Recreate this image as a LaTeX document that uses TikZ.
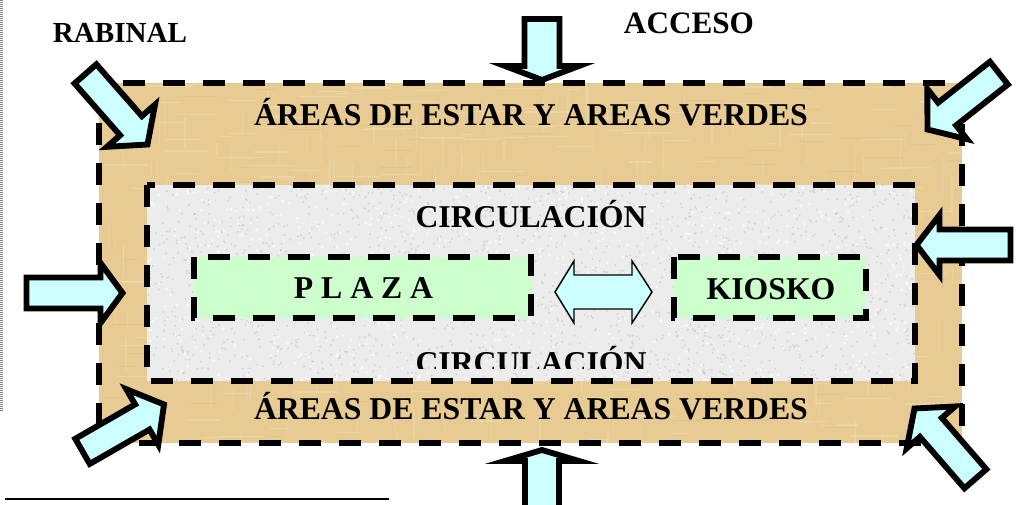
\documentclass[tikz,border=0pt]{standalone}
\usepackage{fontspec}
\setmainfont{Liberation Serif}
\definecolor{papyrus}{RGB}{231,203,146}
\definecolor{granite}{RGB}{236,236,236}
\definecolor{cyanfill}{RGB}{204,255,255}
\definecolor{greenfill}{RGB}{204,255,204}
\newcommand{\blockarr}[7]{%
  \draw[blockarrow, shift={(#1,#2)}, rotate=#3]
    (0,0) -- (-#6,#7) -- (-#6,#5) -- (-#4,#5) -- (-#4,-#5) -- (-#6,-#5) -- (-#6,-#7) -- cycle;}
\begin{document}
\begin{tikzpicture}[x=0.75pt,y=-0.75pt,
  dashedbox/.style={line width=4.2pt, dash pattern=on 16.5pt off 13.5pt},
  blockarrow/.style={draw=black, fill=cyanfill, line width=4.4pt, line join=miter, miter limit=10},
  lbl/.style={font=\bfseries\fontsize{23.8}{28}\selectfont, inner sep=0pt, anchor=base}]
\useasboundingbox (0,0) rectangle (1024,505);
\clip (0,0) rectangle (1024,505);
\fill[white] (0,0) rectangle (1024,505);
\pgfmathsetseed{7}
% page margin marks
\draw[gray, line width=2.2pt, dash pattern=on 0.75pt off 0.75pt] (1.5,0) -- (1.5,412);
\draw[line width=1.8pt] (5,499) -- (389,499);
% outer zone (papyrus)
\fill[papyrus] (99,83) rectangle (962,443);
\begin{scope}
  \clip (99,83) rectangle (962,443);
  \foreach \i in {1,...,260} {
    \draw[white, opacity=0.18, line width=0.9pt] ({99+rnd*863},{83+rnd*360}) -- ++({10+rnd*40},0);
    \draw[white, opacity=0.14, line width=0.9pt] ({99+rnd*863},{83+rnd*360}) -- ++(0,{8+rnd*30});
  }
  \foreach \i in {1,...,120} {
    \draw[brown, opacity=0.10, line width=0.8pt] ({99+rnd*863},{83+rnd*360}) -- ++({10+rnd*30},0);
  }
\end{scope}
\draw[dashedbox] (99,83) rectangle (962,443);
% inner zone (granite)
\fill[granite] (147,185) rectangle (915,381);
\begin{scope}
  \clip (147,185) rectangle (915,381);
  \foreach \i in {1,...,1800} {
    \fill[black!35, opacity=0.35] ({147+rnd*768},{185+rnd*196}) circle (1.1);
  }
  \foreach \i in {1,...,900} {
    \fill[white, opacity=0.7] ({147+rnd*768},{185+rnd*196}) circle (1.4);
  }
\end{scope}
\draw[dashedbox] (147,185) rectangle (915,381);
% labels
\node[lbl, font=\bfseries\fontsize{21.8}{26}\selectfont] (rabinal) at (120,43) {RABINAL};
\node[lbl, font=\bfseries\fontsize{23.4}{28}\selectfont] (acceso) at (689,34) {ACCESO};
\node[lbl] (areastop) at (531,126) {ÁREAS DE ESTAR Y AREAS VERDES};
\node[lbl] (areasbot) at (531,420) {ÁREAS DE ESTAR Y AREAS VERDES};
\node[lbl] (circtop) at (531,228) {CIRCULACIÓN};
\begin{scope}
  \clip (147,185) rectangle (915,369);
  \node[lbl] (circbot) at (531,374) {CIRCULACIÓN};
\end{scope}
% plaza and kiosko
\draw[dashedbox, fill=greenfill] (194,257) rectangle (531,318);
\draw[dashedbox, fill=greenfill] (674,257) rectangle (866,318);
\node[lbl] (plaza) at (363.5,299) {P L A Z A};
\node[lbl] (kiosko) at (771,300) {KIOSKO};
% double arrow
\draw[fill=cyanfill, line width=1.1pt, line join=miter]
  (555,292) -- (574,261) -- (574,275) -- (632,275) -- (632,261) -- (652,292)
  -- (632,323) -- (632,309) -- (574,309) -- (574,323) -- cycle;
% access arrows
\blockarr{542}{80}{-90}{61}{17.5}{14}{37}
\blockarr{542}{450}{90}{70}{17}{11}{37}
\blockarr{122.5}{293}{0}{96}{15.5}{22}{30}
\blockarr{916.5}{245}{180}{94}{15.5}{23}{30}
\blockarr{927.5}{129.5}{218.3}{91}{14.5}{25}{32}
\blockarr{147.5}{144.5}{-48.7}{94}{14.5}{25}{32}
\blockarr{164}{404.5}{29.9}{94}{14.5}{25}{32}
\blockarr{914.5}{408.5}{130.9}{93}{14.5}{25}{32}
\end{tikzpicture}
\end{document}
